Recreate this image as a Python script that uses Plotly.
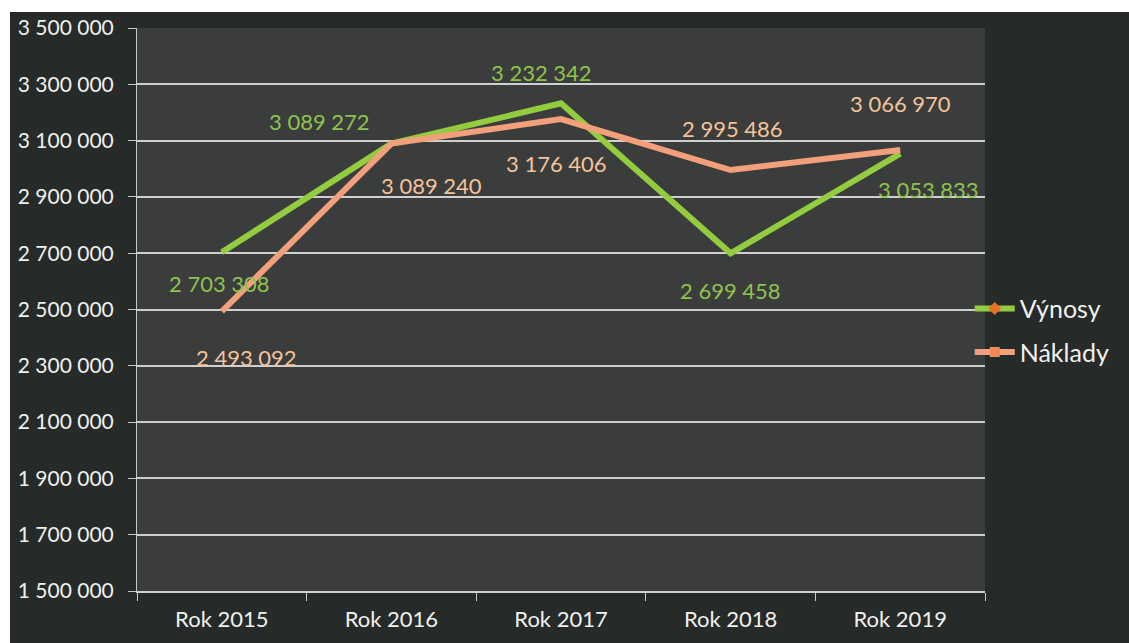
import plotly.graph_objects as go

categories = ["Rok 2015", "Rok 2016", "Rok 2017", "Rok 2018", "Rok 2019"]
vynosy = [2703308, 3089272, 3232342, 2699458, 3053833]
naklady = [2493092, 3089240, 3176406, 2995486, 3066970]
y_ticks = [1500000, 1700000, 1900000, 2100000, 2300000, 2500000, 2700000, 2900000, 3100000, 3300000, 3500000]

# label offsets (px) for each point
vyn_off = [(-2, -31), (-72, 22), (-20, 31), (0, -37), (28, -36)]
nak_off = [(25, -46), (40, -42), (-5, -44), (2, 42), (0, 46)]

GREEN = "#93cc3f"
ORANGE = "#f2a07c"
GREEN_TXT = "#8ec44e"
ORANGE_TXT = "#f4c39a"
FONT = "Lato"

def fmt(v):
    return f"{v:,}".replace(",", " ")

fig = go.Figure()
fig.add_trace(go.Scatter(x=categories, y=vynosy, mode="lines", name="Výnosy",
                         line=dict(color=GREEN, width=6), showlegend=False))
fig.add_trace(go.Scatter(x=categories, y=naklady, mode="lines", name="Náklady",
                         line=dict(color=ORANGE, width=6), showlegend=False))
# legend entries
fig.add_trace(go.Scatter(x=[None], y=[None], mode="lines+markers", name="Výnosy",
                         legendgroup="v",
                         line=dict(color=GREEN, width=6),
                         marker=dict(symbol="diamond", size=10, color="#e8702a")))
fig.add_trace(go.Scatter(x=[None], y=[None], mode="lines+markers", name="Náklady",
                         legendgroup="n",
                         line=dict(color=ORANGE, width=6),
                         marker=dict(symbol="square", size=10, color="#ef8a5a")))

for c, v, (dx, dy) in zip(categories, vynosy, vyn_off):
    fig.add_annotation(x=c, y=v, text=fmt(v), showarrow=False, xshift=dx, yshift=dy,
                       font=dict(family=FONT, size=22, color=GREEN_TXT))
for c, v, (dx, dy) in zip(categories, naklady, nak_off):
    fig.add_annotation(x=c, y=v, text=fmt(v), showarrow=False, xshift=dx, yshift=dy,
                       font=dict(family=FONT, size=22, color=ORANGE_TXT))

# white scan border at top and left
fig.add_shape(type="rect", xref="paper", yref="paper", x0=-0.17, x1=-0.1498, y0=-0.1, y1=1.06,
              fillcolor="white", line=dict(width=0), layer="below")
fig.add_shape(type="rect", xref="paper", yref="paper", x0=-0.17, x1=1.2, y0=1.0284, y1=1.06,
              fillcolor="white", line=dict(width=0), layer="below")

fig.update_layout(
    width=1129, height=643,
    margin=dict(l=137, r=144, t=28, b=52),
    paper_bgcolor="#262a28",
    plot_bgcolor="#3b3c3c",
    separators=", ",
    font=dict(family=FONT, size=22, color="#e8e8e8"),
    legend=dict(x=0.982, y=0.542, xanchor="left", yanchor="top",
                bgcolor="rgba(0,0,0,0)", font=dict(size=25, color="#f0f0f0"),
                tracegroupgap=8, itemwidth=40),
    xaxis=dict(range=[-0.5, 4.5], showgrid=False, ticks="outside", tickson="boundaries", ticklen=8,
               tickcolor="#c8c8c8", showline=True, linecolor="#d0d0d0", linewidth=2,
               ticklabelstandoff=8,
               tickfont=dict(size=22, color="#f0f0f0")),
    yaxis=dict(range=[1500000, 3500000], tickvals=y_ticks, tickformat=",d",
               showgrid=True, gridcolor="#cfcfcf", gridwidth=2,
               ticks="outside", ticklen=8, tickcolor="#c8c8c8", ticklabelstandoff=10,
               showline=True, linecolor="#c8c8c8", linewidth=1,
               tickfont=dict(size=21, color="#f0f0f0"), zeroline=False),
)

fig.write_html("out.html")
